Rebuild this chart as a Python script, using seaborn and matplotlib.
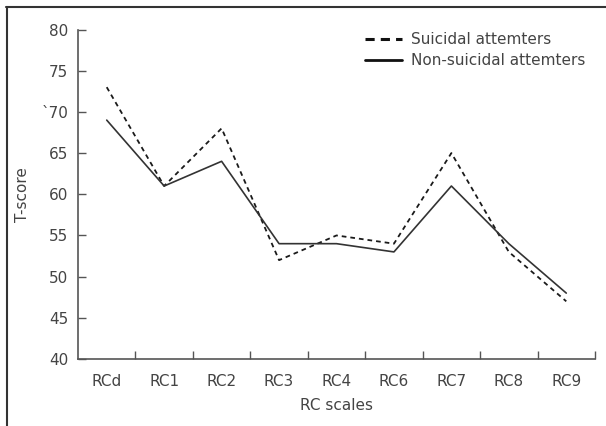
import matplotlib
matplotlib.use("Agg")
import matplotlib.pyplot as plt
import seaborn as sns
import pandas as pd
from matplotlib.lines import Line2D

scales = ["RCd", "RC1", "RC2", "RC3", "RC4", "RC6", "RC7", "RC8", "RC9"]
suicidal = [73, 61, 68, 52, 55, 54, 65, 53, 47]
non_suicidal = [69, 61, 64, 54, 54, 53, 61, 54, 48]
ytick_values = [40, 45, 50, 55, 60, 65, 70, 75, 80]
ytick_labels = ["40", "45", "50", "55", "60", "65", "`70", "75", "80"]

sns.set_style("white")
plt.rcParams["font.family"] = ["DejaVu Sans"]

df = pd.DataFrame({
    "scale": scales * 2,
    "score": suicidal + non_suicidal,
    "group": ["Suicidal attemters"] * len(scales) + ["Non-suicidal attemters"] * len(scales),
})

fig = plt.figure(figsize=(6.06, 4.26), dpi=100)
ax = fig.add_axes([78/606, 1 - 359/426, (595 - 78)/606, (359 - 29.5)/426])

sns.lineplot(data=df[df.group == "Suicidal attemters"], x="scale", y="score",
             ax=ax, color="#1a1a1a", lw=1.3, linestyle=(0, (2.6, 2.2)), legend=False)
sns.lineplot(data=df[df.group == "Non-suicidal attemters"], x="scale", y="score",
             ax=ax, color="#333333", lw=1.2, legend=False)

ax.set_xlim(-0.5, len(scales) - 0.5)
ax.set_ylim(40, 80)
ax.set_yticks(ytick_values)
ax.set_yticklabels(ytick_labels)
ax.set_xticks(range(len(scales)))
ax.set_xticklabels(scales)
ax.set_xticks([i + 0.5 for i in range(len(scales))], minor=True)

txt_color = "#444444"
ax.tick_params(axis="x", which="major", bottom=True, length=0, pad=11, labelsize=11,
               labelcolor=txt_color)
ax.tick_params(axis="x", which="minor", bottom=True, direction="in", length=6, width=1.0,
               color="#555555")
ax.tick_params(axis="y", which="major", left=True, direction="in", length=6, width=1.0,
               color="#555555", pad=7, labelsize=11, labelcolor=txt_color)

for s in ["top", "right"]:
    ax.spines[s].set_visible(False)
for s in ["left", "bottom"]:
    ax.spines[s].set_color("#555555")
    ax.spines[s].set_linewidth(1.2)

ax.set_xlabel("RC scales", fontsize=11, color=txt_color, labelpad=6)
ax.set_ylabel("T-score", fontsize=11, color=txt_color, labelpad=8)

handles = [
    Line2D([], [], color="#111111", lw=2.2, linestyle=(0, (3, 2))),
    Line2D([], [], color="#111111", lw=2.0),
]
ax.legend(handles, ["Suicidal attemters", "Non-suicidal attemters"], frameon=False,
          loc="upper left", bbox_to_anchor=(0.535, 1.025), fontsize=11,
          handlelength=2.4, handletextpad=0.6, labelspacing=0.4, labelcolor=txt_color,
          borderpad=0.2)

fig.add_artist(Line2D([6/606, 1.0], [1 - 6.5/426, 1 - 6.5/426], transform=fig.transFigure,
                      color="#333333", lw=1.5))
fig.add_artist(Line2D([7/606, 7/606], [0, 1 - 6.5/426], transform=fig.transFigure,
                      color="#333333", lw=1.5))

fig.savefig("out.png", dpi=100)
